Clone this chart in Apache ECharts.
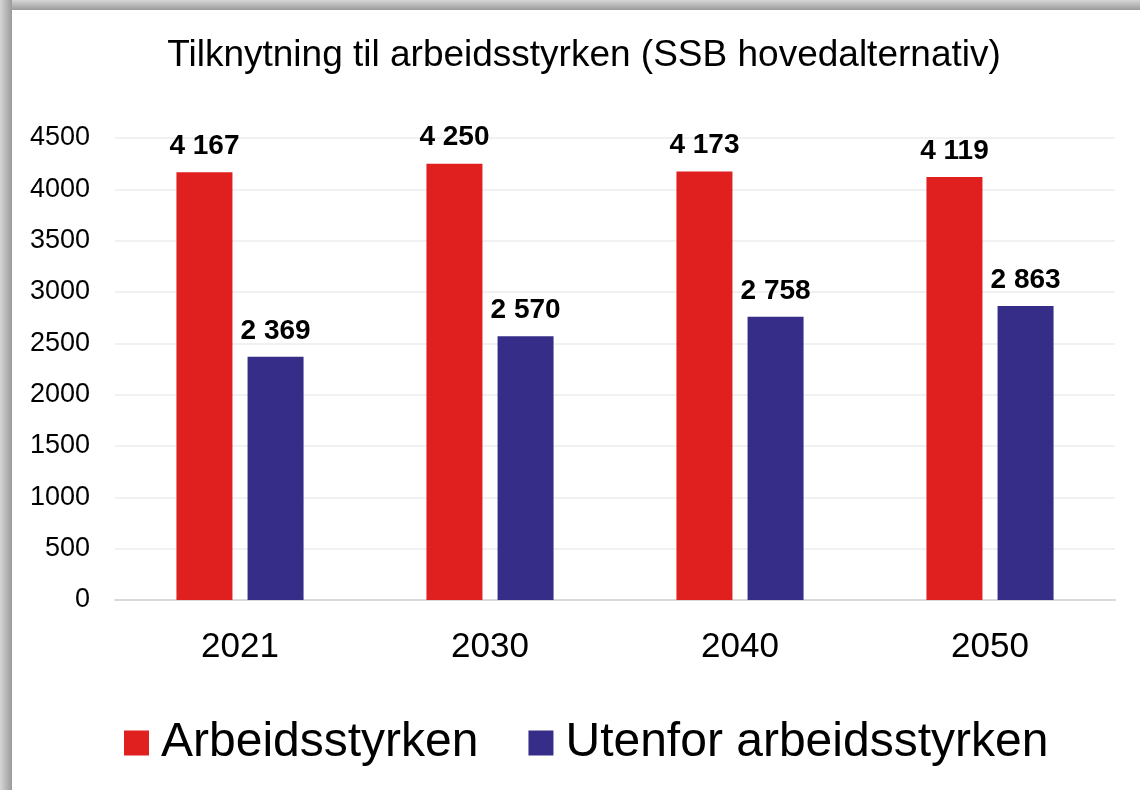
<!DOCTYPE html>
<html>
<head>
<meta charset="utf-8">
<script src="https://cdn.jsdelivr.net/npm/echarts@6/dist/echarts.min.js"></script>
<style>
  html, body { margin: 0; padding: 0; background: #fff; }
  #wrap { position: relative; width: 1140px; height: 790px; overflow: hidden; }
  #top { position: absolute; left: 0; top: 0; width: 1140px; height: 10px;
         background: linear-gradient(to bottom, #d6d6d6, #9a9a9a); }
  #left { position: absolute; left: 0; top: 0; width: 12px; height: 790px;
          background: linear-gradient(to right, #d6d6d6, #9a9a9a); }
  #main { position: absolute; left: 0; top: 0; width: 1140px; height: 790px; }
</style>
</head>
<body>
<div id="wrap">
  <div id="main"></div>
  <div id="top"></div>
  <div id="left"></div>
</div>
<script>
let years = ['2021', '2030', '2040', '2050'];
let arbeidsstyrken = [4167, 4250, 4173, 4119];
let utenfor = [2369, 2570, 2758, 2863];

// tusenskille med mellomrom
let fmt = function (p) {
    return String(p.value).replace(/\B(?=(\d{3})+(?!\d))/g, ' ');
};

let myChart = echarts.init(document.getElementById('main'));
let option = {
    textStyle: { fontFamily: 'Liberation Sans, Arial, sans-serif' },
    title: {
        text: 'Tilknytning til arbeidsstyrken (SSB hovedalternativ)',
        left: 579,
        textAlign: 'center',
        top: 32,
        textStyle: { fontSize: 37, fontWeight: 'normal', color: '#000' }
    },
    legend: {
        left: 119,
        top: 714,
        itemWidth: 25,
        itemHeight: 25,
        itemGap: 50,
        icon: 'rect',
        textStyle: { fontSize: 48, color: '#000', padding: [0, 0, 0, 7] },
        data: ['Arbeidsstyrken', 'Utenfor arbeidsstyrken']
    },
    grid: { left: 115, right: 25, top: 138, bottom: 190 },
    xAxis: {
        type: 'category',
        data: years,
        axisLine: { lineStyle: { color: '#d9d9d9', width: 2 } },
        axisTick: { show: false },
        axisLabel: { fontSize: 35, color: '#000', margin: 30 }
    },
    yAxis: {
        type: 'value',
        min: 0,
        max: 4500,
        interval: 500,
        axisLine: { show: false },
        axisTick: { show: false },
        axisLabel: { fontSize: 27, color: '#000', margin: 25, formatter: function (v) { return String(v); } },
        splitLine: { lineStyle: { color: '#ececec', width: 1.5 } }
    },
    series: [
        {
            name: 'Arbeidsstyrken',
            type: 'bar',
            data: arbeidsstyrken,
            barWidth: 56,
            barGap: '27%',
            itemStyle: { color: '#e01f1f' },
            label: { show: true, position: 'top', distance: 12, fontSize: 28, fontWeight: 'bold', color: '#000', formatter: fmt }
        },
        {
            name: 'Utenfor arbeidsstyrken',
            type: 'bar',
            data: utenfor,
            barWidth: 56,
            itemStyle: { color: '#362d89' },
            label: { show: true, position: 'top', distance: 12, fontSize: 28, fontWeight: 'bold', color: '#000', formatter: fmt }
        }
    ]
};
myChart.setOption(option);
</script>
</body>
</html>
